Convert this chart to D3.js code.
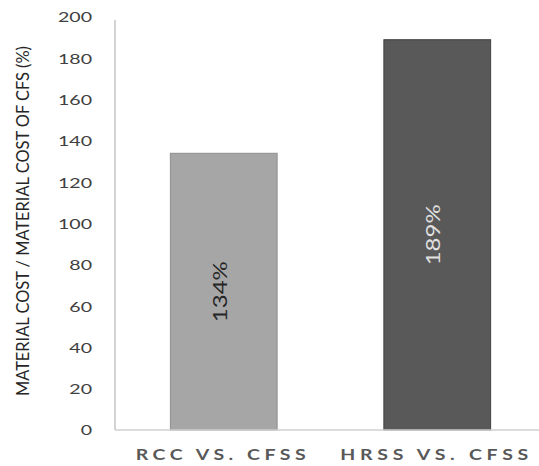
<!DOCTYPE html>
<html>
<head>
<meta charset="utf-8">
<script src="https://cdn.jsdelivr.net/npm/d3@7"></script>
<style>
  html, body { margin: 0; padding: 0; background: #fff; }
  svg { display: block; font-family: Lato, "Liberation Sans", sans-serif; }
</style>
</head>
<body>
<svg id="chart" width="539" height="466"></svg>
<script>
// Material cost ratios relative to cold-formed steel
const categories = ["RCC VS. CFSS", "HRSS VS. CFSS"];
const values = [134, 189];
const valueLabels = ["134%", "189%"];
const yTicks = [0, 20, 40, 60, 80, 100, 120, 140, 160, 180, 200];
const yTitle = "MATERIAL  COST / MATERIAL  COST OF CFS (%)";
const barColors = ["#a6a6a6", "#595959"];
const barStrokes = ["#8f8f8f", "#404040"];
const labelColors = ["#262626", "#e0e0e0"];

const svg = d3.select("#chart");

const y = d3.scaleLinear().domain([0, 200]).range([430, 17]);
const x = d3.scaleBand().domain(categories).range([117, 544])
  .paddingInner(0.5).paddingOuter(0.25);

const axisX = 115;

// value axis: labels only, with a plain grey spine
const yAxis = svg.append("g")
  .attr("transform", `translate(${axisX},0)`)
  .call(d3.axisLeft(y).tickValues(yTicks).tickSize(0).tickPadding(0));
yAxis.select(".domain").remove();
const sx = 1.4;
yAxis.selectAll(".tick text")
  .attr("x", -23 / sx)
  .attr("dy", "0.35em")
  .attr("transform", `scale(${sx},1)`)
  .attr("fill", "#404040")
  .attr("font-size", 14)
  .attr("font-family", "Lato, sans-serif");

svg.append("line")
  .attr("x1", axisX).attr("x2", axisX)
  .attr("y1", 20).attr("y2", y(0))
  .attr("stroke", "#c4c4c4").attr("stroke-width", 1.5);

// bars
svg.selectAll("rect.bar")
  .data(values)
  .join("rect")
  .attr("class", "bar")
  .attr("x", (d, i) => x(categories[i]))
  .attr("width", x.bandwidth())
  .attr("y", d => y(d))
  .attr("height", d => y(0) - y(d))
  .attr("fill", (d, i) => barColors[i])
  .attr("stroke", (d, i) => barStrokes[i])
  .attr("stroke-width", 1);

// category baseline
svg.append("line")
  .attr("x1", axisX).attr("x2", 539)
  .attr("y1", y(0)).attr("y2", y(0))
  .attr("stroke", "#d0d0d0").attr("stroke-width", 1.5);

// rotated value labels centred in each bar
svg.selectAll("text.val")
  .data(values)
  .join("text")
  .attr("class", "val")
  .attr("transform", (d, i) =>
    `translate(${x(categories[i]) + x.bandwidth() / 2 - 4},${y(d / 2)}) rotate(-90)`)
  .attr("text-anchor", "middle")
  .attr("dy", "0.36em")
  .attr("font-size", 20)
  .attr("textLength", 61)
  .attr("lengthAdjust", "spacingAndGlyphs")
  .attr("fill", (d, i) => labelColors[i])
  .text((d, i) => valueLabels[i]);

// category labels, widely spaced with broad glyphs
const catLengths = [170, 188];
const cx = 1.3;
svg.selectAll("text.cat")
  .data(categories)
  .join("text")
  .attr("class", "cat")
  .attr("transform", `scale(${cx},1)`)
  .attr("x", (d, i) => (x(d) + x.bandwidth() / 2 - 3 - catLengths[i] / 2) / cx)
  .attr("y", 460)
  .attr("font-size", 15)
  .attr("font-weight", "bold")
  .attr("fill", "#595959")
  .attr("textLength", (d, i) => catLengths[i] / cx)
  .attr("lengthAdjust", "spacing")
  .text(d => d);

// value axis title
svg.append("text")
  .attr("transform", `translate(23,${221}) rotate(-90)`)
  .attr("text-anchor", "middle")
  .attr("dy", "0.36em")
  .attr("font-size", 17)
  .attr("textLength", 350)
  .attr("lengthAdjust", "spacingAndGlyphs")
  .attr("fill", "#262626")
  .text(yTitle);
</script>
</body>
</html>
